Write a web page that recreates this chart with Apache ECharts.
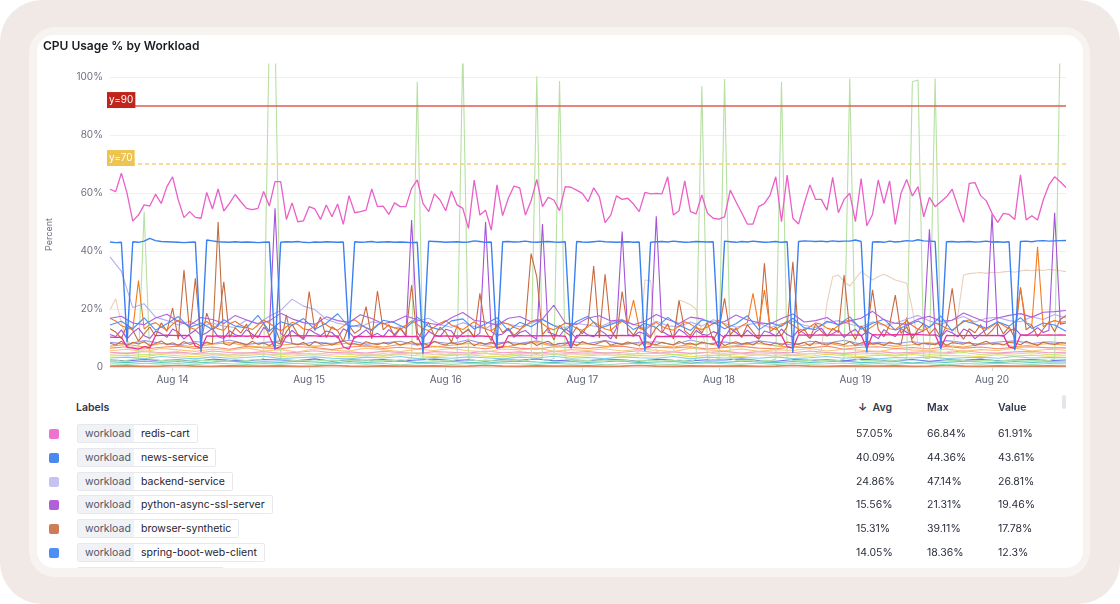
<!DOCTYPE html>
<html>
<head>
<meta charset="utf-8">
<script src="https://cdn.jsdelivr.net/npm/echarts@6/dist/echarts.min.js"></script>
<style>
html, body { margin: 0; padding: 0; width: 1120px; height: 604px; overflow: hidden; background: #fff; font-family: Inter, 'Noto Sans', sans-serif; }
#outer { position: absolute; left: 0; top: 0; width: 1120px; height: 604px; border-radius: 42px; background: #f1e9e5; }
#ring { position: absolute; left: 29px; top: 27px; width: 1061px; height: 550px; border-radius: 26px; background: #f7f3f1; }
#card { position: absolute; left: 37px; top: 35px; width: 1046px; height: 533px; border-radius: 17px; background: #fff; overflow: hidden; }
#chart { position: absolute; left: 0; top: 0; width: 1046px; height: 362px; }
.hdr { position: absolute; top: 366px; font-size: 10.5px; font-weight: 600; color: #30354a; line-height: 14px; white-space: nowrap; }
.row { position: absolute; left: 0; width: 1046px; height: 24px; }
.sw { position: absolute; left: 12px; top: 7px; width: 10px; height: 10px; border-radius: 2px; }
.chip { position: absolute; left: 40px; top: 2px; height: 19px; box-sizing: border-box; display: flex; border: 1px solid #e7e8ee; border-radius: 2px; font-size: 10.5px; line-height: 17px; white-space: nowrap; }
.chip .k { width: 56px; box-sizing: border-box; padding-left: 7px; background: #f1f2f6; color: #4f5566; }
.chip .v { background: #fff; color: #1f2330; padding: 0 7px; }
.num { position: absolute; top: 5px; font-size: 10.5px; color: #2a2e3c; line-height: 14px; }
#thumb { position: absolute; left: 1025px; top: 360px; width: 4px; height: 14px; border-radius: 2px; background: #e3e5eb; }
</style>
</head>
<body>
<div id="outer"></div>
<div id="ring"></div>
<div id="card">
  <div id="chart"></div>
  <div class="hdr" style="left:39px">Labels</div>
  <div class="hdr" style="left:821px">&#8595;&nbsp; Avg</div>
  <div class="hdr" style="left:890px">Max</div>
  <div class="hdr" style="left:961px">Value</div>
  <div id="thumb"></div>
  <div id="rows"></div>
</div>
<script>
// hourly samples start Aug 13 13:00 (UTC)
var START = Date.UTC(2024, 7, 13, 13, 0)
var HOUR = 3600 * 1000

var redisCart = [
  61.3, 60.5, 66.84, 59.9, 50.3, 52.4, 55.9, 55.5, 59.6, 56.4, 62.2, 65.6, 57.6, 51.5, 53.6, 51.6, 51.3, 60.2, 54.5, 61.4, 53.8, 56.4, 59.5, 57.0,
  54.7, 54.3, 54.7, 60.5, 55.5, 63.9, 63.9, 50.9, 56.6, 50.1, 50.4, 55.3, 54.5, 50.9, 55.9, 51.8, 56.2, 49.2, 59.1, 53.2, 53.6, 54.1, 61.4, 55.3,
  55.5, 52.6, 56.6, 55.3, 55.3, 61.6, 64.5, 56.4, 53.6, 59.7, 57.6, 53.9, 60.7, 55.9, 54.7, 47.8, 64.5, 52.4, 54.1, 47.2, 62.8, 52.2, 58.2, 62.4,
  61.8, 52.4, 57.3, 64.7, 55.3, 58.5, 57.6, 53.9, 62.2, 62.0, 61.0, 59.9, 57.0, 61.8, 58.7, 49.8, 52.4, 59.0, 57.8, 58.2, 56.2, 53.6, 60.2, 59.7,
  59.9, 59.7, 65.6, 52.4, 53.9, 64.2, 53.6, 52.8, 59.3, 53.0, 51.3, 51.0, 51.8, 61.0, 57.0, 53.2, 49.3, 49.3, 55.3, 56.4, 59.3, 65.6, 50.1, 66.2,
  51.3, 49.3, 56.4, 62.8, 57.8, 57.8, 54.1, 65.4, 53.2, 57.8, 59.9, 50.1, 65.0, 48.7, 52.6, 64.5, 56.4, 64.2, 49.2, 59.9, 64.7, 59.0, 62.2, 51.8,
  58.5, 55.3, 57.0, 58.7, 61.3, 55.3, 49.9, 63.3, 63.6, 59.1, 57.3, 53.0, 49.9, 53.0, 52.6, 50.9, 66.3, 50.7, 52.2, 50.7, 57.6, 62.8, 65.6, 63.9,
  61.91
]
var newsService = [
  43.1, 42.9, 43.0, 8.5, 43.2, 43.0, 43.4, 44.36, 43.6, 43.3, 43.2, 43.1, 43.0, 42.9, 43.0, 43.1, 5.2, 43.8, 43.5, 43.2, 43.1, 43.0, 43.2, 43.0,
  43.1, 43.0, 42.9, 43.0, 43.1, 6.0, 43.0, 43.2, 43.1, 43.3, 43.0, 42.9, 43.1, 43.0, 43.2, 43.1, 43.0, 43.1, 9.5, 43.2, 43.0, 43.1, 43.3, 43.0,
  43.1, 43.2, 43.0, 43.1, 43.0, 42.9, 43.0, 4.5, 43.4, 43.3, 43.2, 43.0, 43.1, 43.2, 43.0, 43.1, 43.5, 43.3, 43.0, 43.1, 6.5, 43.2, 43.3, 43.1,
  43.2, 43.4, 43.1, 43.0, 43.2, 43.3, 43.1, 43.0, 43.2, 7.0, 43.3, 43.1, 43.0, 43.2, 43.4, 43.2, 43.1, 43.0, 43.1, 43.2, 43.0, 43.1, 5.5, 43.0,
  43.2, 43.3, 43.1, 43.4, 43.2, 43.0, 43.1, 43.3, 43.2, 43.1, 43.2, 6.8, 43.4, 43.2, 43.0, 43.3, 43.1, 43.4, 43.2, 43.0, 43.1, 43.3, 43.0, 43.2,
  4.8, 43.3, 43.5, 43.4, 43.3, 43.4, 43.2, 43.5, 43.3, 43.4, 43.4, 43.8, 43.3, 5.0, 43.1, 43.2, 43.0, 43.4, 43.1, 43.3, 43.6, 43.4, 43.9, 43.5,
  43.4, 43.3, 6.2, 43.2, 43.3, 43.1, 43.2, 43.3, 43.1, 43.2, 43.4, 43.1, 43.2, 43.0, 43.2, 5.8, 43.3, 43.4, 43.2, 43.5, 43.6, 43.4, 43.5, 43.6,
  43.61
]
var checkoutStep = [
  10.3, 10.2, 10.3, 6.8, 6.5, 6.2, 7.0, 6.6, 10.8, 10.9, 11.0, 10.9, 10.8, 10.9, 10.8, 7.2, 6.4, 10.7, 10.6, 10.7, 10.6, 10.7, 10.6, 10.7,
  10.6, 10.7, 10.6, 10.5, 10.6, 6.3, 7.0, 10.8, 10.7, 10.8, 10.7, 10.8, 10.7, 10.6, 10.7, 10.6, 10.7, 6.9, 6.2, 10.5, 10.6, 10.5, 10.6, 10.5,
  10.6, 10.5, 10.6, 10.5, 10.6, 10.5, 10.6, 6.6, 7.1, 10.7, 10.6, 10.7, 10.6, 10.7, 10.6, 10.7, 10.6, 10.7, 10.6, 10.5, 6.4, 6.9, 10.8, 10.7,
  10.8, 10.7, 10.8, 10.7, 10.8, 10.7, 10.8, 10.7, 10.6, 6.5, 10.9, 10.8, 10.9, 10.8, 10.9, 10.8, 10.9, 10.8, 10.9, 10.8, 10.9, 10.8, 6.7, 7.2,
  10.6, 10.5, 10.6, 10.5, 10.6, 10.5, 10.6, 10.5, 10.6, 10.5, 10.4, 6.5, 10.9, 10.8, 10.9, 10.8, 10.9, 10.8, 10.9, 10.8, 10.9, 10.8, 10.9, 7.0,
  6.4, 11.1, 11.0, 11.1, 11.0, 11.1, 11.0, 11.1, 11.0, 11.1, 11.0, 11.1, 11.0, 6.3, 11.2, 11.1, 11.2, 11.1, 11.2, 11.1, 11.2, 11.3, 11.2, 11.1,
  11.0, 11.1, 6.6, 10.9, 10.8, 10.9, 10.8, 10.9, 10.8, 10.9, 10.8, 10.9, 10.8, 10.9, 6.9, 6.4, 11.0, 11.1, 11.0, 11.1, 11.0, 11.1, 11.0, 11.1,
  11.0
]
var loadgenSpikes = [
  2.1, 2.4, 2.0, 2.3, 2.6, 3.1, 53.6, 3.0, 2.5, 2.2, 2.4, 2.1, 2.3, 2.0, 2.2, 2.5, 2.3, 2.1, 2.4, 2.2, 2.0, 2.3, 2.6, 2.4,
  2.2, 2.5, 2.3, 3.0, 115, 115, 3.2, 2.5, 2.3, 2.1, 2.4, 2.2, 2.0, 2.3, 2.1, 2.4, 2.2, 2.5, 2.3, 2.1, 2.2, 2.4, 2.0, 2.3,
  2.1, 2.4, 2.2, 2.5, 2.3, 3.0, 98.4, 3.1, 2.4, 2.2, 2.0, 2.3, 2.1, 2.6, 110, 2.9, 2.3, 2.1, 2.4, 2.2, 2.0, 2.3, 2.5, 2.2,
  2.4, 2.1, 2.8, 100.3, 2.7, 2.3, 2.9, 98.6, 3.0, 2.2, 2.4, 2.1, 2.3, 2.0, 2.2, 2.5, 2.3, 2.1, 2.4, 2.2, 2.0, 2.3, 2.1, 2.4,
  2.2, 2.0, 2.3, 2.1, 2.4, 2.2, 2.0, 2.7, 96.9, 2.8, 2.4, 2.9, 99.3, 3.0, 2.3, 2.1, 2.4, 2.2, 2.0, 2.3, 2.1, 2.8, 98.4, 2.9,
  2.3, 2.1, 2.4, 2.2, 2.0, 2.3, 2.1, 2.4, 2.2, 2.7, 99.5, 2.8, 2.3, 2.1, 2.4, 2.2, 2.0, 2.3, 2.1, 2.4, 2.9, 98.4, 99.0, 3.1,
  2.9, 99.5, 3.0, 2.3, 2.1, 2.4, 2.2, 2.0, 2.3, 2.1, 2.4, 2.2, 2.0, 2.3, 2.1, 2.4, 2.2, 2.0, 2.3, 2.1, 2.4, 2.2, 2.8, 115,
  115
]
var tanWorker = [
  19.7, 23.5, 15.0, 9.2, 7.0, 6.1, 5.6, 5.2, 4.9, 4.6, 4.8, 4.5, 4.7, 4.4, 4.6, 4.3, 4.5, 4.7, 4.4, 4.6, 4.5, 4.3, 4.6, 4.4,
  4.5, 4.7, 4.4, 4.6, 4.3, 4.5, 4.8, 4.4, 4.6, 4.3, 4.5, 4.7, 4.4, 4.6, 4.5, 4.3, 4.6, 4.4, 4.7, 4.5, 4.3, 4.6, 4.4, 4.5,
  4.7, 4.4, 4.6, 4.3, 4.5, 4.8, 4.4, 4.6, 4.5, 4.3, 4.6, 4.4, 4.7, 4.5, 4.3, 4.6, 4.4, 4.5, 4.7, 4.4, 4.6, 4.3, 4.5, 4.8,
  4.4, 4.6, 4.5, 4.3, 4.6, 4.4, 4.7, 4.5, 4.3, 4.6, 4.4, 4.5, 4.7, 4.4, 4.6, 4.3, 4.5, 4.8, 4.4, 4.6, 4.5, 5.2, 30.0, 29.8,
  5.4, 4.8, 4.6, 5.0, 23.1, 22.4, 21.5, 19.9, 12.0, 5.3, 4.7, 4.5, 4.6, 4.4, 4.7, 4.5, 4.3, 4.6, 4.4, 4.5, 4.7, 4.4, 4.6, 4.5,
  4.3, 4.6, 4.4, 4.7, 4.5, 6.0, 22.0, 31.1, 31.7, 29.5, 27.9, 30.5, 32.9, 31.5, 30.0, 31.2, 32.0, 31.0, 30.0, 29.5, 28.9, 20.0, 8.0, 5.6,
  5.2, 4.9, 5.0, 5.2, 5.6, 18.0, 31.7, 32.2, 32.4, 32.6, 32.3, 32.7, 32.5, 32.8, 33.0, 32.7, 33.1, 33.4, 33.2, 33.5, 33.3, 33.6, 33.4, 33.2,
  32.9
]
var violetSpikes = [
  11.2, 10.5, 12.8, 9.7, 11.9, 13.4, 10.8, 9.9, 12.3, 11.6, 10.2, 13.1, 12.0, 9.6, 11.4, 12.7, 10.9, 11.8, 13.3, 10.4, 9.8, 12.5, 11.1, 10.6,
  12.9, 11.3, 10.1, 13.6, 12.2, 54.7, 11.5, 10.3, 12.6, 11.0, 9.5, 13.0, 11.7, 10.8, 12.4, 11.9, 10.0, 13.2, 12.1, 9.9, 11.3, 12.8, 10.7, 11.6,
  10.4, 12.9, 11.2, 13.5, 10.6, 50.7, 11.8, 9.7, 12.3, 11.1, 10.5, 13.0, 12.4, 9.8, 11.6, 12.9, 10.3, 11.7, 50.0, 12.2, 10.9, 11.4, 13.1, 10.2,
  11.9, 12.6, 10.8, 9.6, 49.3, 12.0, 11.3, 10.7, 13.2, 11.8, 9.9, 12.5, 11.0, 10.4, 12.8, 11.5, 9.7, 13.4, 46.7, 11.2, 10.6, 12.1, 11.4, 10.0,
  52.0, 12.3, 11.1, 10.5, 13.0, 11.7, 9.8, 12.6, 11.3, 10.9, 12.2, 11.5, 10.1, 13.3, 11.9, 10.4, 12.7, 11.0, 9.6, 12.4, 11.8, 10.7, 13.1, 11.2,
  10.3, 12.8, 11.6, 9.9, 12.1, 13.4, 10.8, 11.5, 12.7, 10.2, 11.9, 13.0, 10.6, 12.3, 11.1, 9.8, 12.9, 11.4, 10.5, 13.2, 12.0, 10.9, 11.7, 12.5,
  47.5, 11.3, 10.2, 12.6, 11.8, 10.4, 13.1, 12.2, 9.7, 11.5, 12.9, 52.8, 11.0, 10.6, 12.4, 13.3, 11.2, 10.8, 12.0, 13.6, 11.9, 12.7, 53.2, 14.8,
  15.2
]
var browserSynthetic = [
  13.2, 12.1, 9.8, 14.5, 12.7, 8.9, 11.4, 13.8, 10.6, 15.2, 12.3, 20.3, 9.5, 33.4, 11.8, 30.6, 8.7, 18.6, 12.9, 14.1, 29.4, 10.2, 13.5, 11.7,
  14.8, 9.6, 12.4, 15.1, 10.8, 13.6, 8.4, 12.2, 14.7, 11.3, 9.9, 26.0, 12.6, 17.3, 10.1, 13.9, 12.5, 8.8, 14.3, 11.6, 13.0, 20.8, 9.7, 26.2,
  12.8, 14.6, 10.5, 13.3, 11.1, 28.3, 9.3, 12.9, 15.4, 10.7, 13.7, 12.0, 8.6, 14.2, 11.5, 13.1, 10.3, 25.4, 12.4, 9.1, 14.9, 11.9, 13.4, 10.9,
  12.6, 15.0, 39.11, 31.1, 11.2, 13.5, 9.4, 14.4, 12.1, 10.6, 13.8, 11.4, 14.7, 34.8, 10.0, 32.0, 12.7, 9.8, 26.0, 13.2, 11.0, 14.1, 12.3, 10.4,
  13.6, 11.8, 14.9, 9.6, 22.9, 12.5, 10.9, 13.9, 11.7, 15.3, 9.2, 12.8, 23.7, 11.1, 13.4, 10.2, 14.6, 12.0, 9.7, 35.8, 12.2, 13.7, 10.8, 14.0,
  36.3, 11.5, 13.1, 9.9, 14.8, 12.4, 10.6, 13.3, 11.9, 31.7, 12.7, 9.5, 14.2, 11.2, 26.6, 13.0, 10.4, 14.5, 24.8, 11.6, 13.8, 9.8, 12.9, 15.1,
  11.3, 13.5, 10.1, 14.3, 27.1, 12.1, 9.6, 13.2, 11.8, 14.6, 10.7, 12.6, 15.0, 11.4, 13.9, 9.9, 27.5, 12.8, 14.4, 10.5, 13.1, 15.6, 12.2, 16.4,
  17.78
]
var brownBatch = [
  8.2, 7.6, 8.9, 7.3, 8.5, 7.9, 8.7, 7.4, 8.1, 9.0, 7.7, 8.4, 7.5, 8.8, 7.8, 8.3, 7.2, 8.6, 7.9, 50.0, 8.0, 7.5, 8.7, 8.2,
  7.6, 8.9, 7.8, 8.3, 7.4, 8.6, 7.9, 18.0, 8.1, 7.7, 8.5, 7.3, 8.8, 7.9, 8.2, 7.6, 8.4, 9.1, 7.8, 8.0, 7.5, 8.7, 8.1, 7.7,
  8.4, 7.9, 8.6, 7.5, 8.2, 8.8, 7.7, 8.3, 7.4, 8.9, 8.0, 7.6, 8.5, 7.8, 8.1, 9.0, 7.3, 8.4, 7.9, 8.6, 7.7, 8.2, 8.8, 7.5,
  8.1, 7.8, 8.7, 7.4, 8.3, 8.9, 7.6, 8.2, 7.9, 8.5, 7.3, 8.8, 8.0, 7.7, 8.4, 9.1, 7.5, 8.2, 7.8, 8.6, 8.0, 7.4, 8.9, 8.1,
  7.7, 8.5, 8.0, 7.6, 8.8, 7.9, 8.3, 7.5, 8.6, 8.1, 7.8, 9.0, 7.4, 8.2, 8.7, 7.9, 8.4, 7.6, 8.9, 8.0, 7.7, 8.3, 7.5, 8.6,
  8.2, 7.8, 8.5, 7.3, 8.9, 8.0, 7.6, 8.4, 8.1, 7.7, 8.8, 7.5, 8.3, 9.0, 7.9, 8.2, 7.4, 8.6, 8.0, 7.8, 17.0, 8.5, 7.6, 8.3,
  8.0, 7.7, 8.8, 7.5, 8.4, 8.1, 7.9, 8.6, 7.3, 8.2, 8.9, 7.8, 8.0, 7.6, 8.5, 8.3, 7.7, 8.9, 8.1, 7.4, 8.6, 8.0, 7.8, 8.4,
  8.2
]
var orangeApi = [
  16.8, 15.9, 14.2, 13.5, 12.8, 29.8, 13.1, 14.6, 15.3, 13.9, 12.7, 14.8, 16.1, 15.2, 13.6, 12.9, 14.3, 15.7, 14.1, 13.2, 12.6, 14.9, 15.8, 14.4,
  13.7, 12.9, 14.5, 16.2, 15.1, 13.8, 12.4, 13.9, 15.4, 14.7, 13.1, 12.8, 14.2, 15.9, 14.6, 13.3, 12.7, 14.1, 15.5, 16.3, 14.8, 13.4, 12.9, 14.6,
  15.2, 14.1, 13.5, 12.8, 14.4, 15.9, 14.7, 13.2, 12.6, 13.8, 15.1, 16.0, 14.5, 13.6, 12.9, 14.3, 15.6, 14.2, 13.1, 12.5, 13.9, 15.3, 14.8, 13.7,
  12.9, 14.2, 15.7, 16.4, 14.9, 13.5, 12.8, 14.0, 15.2, 14.6, 13.3, 12.7, 13.9, 15.5, 14.3, 13.1, 12.6, 14.4, 15.8, 14.7, 23.1, 13.4, 12.8, 14.2,
  15.4, 14.0, 13.2, 12.7, 14.1, 15.6, 14.8, 13.5, 12.9, 13.8, 15.0, 16.1, 14.6, 13.3, 12.8, 14.2, 15.3, 25.4, 14.1, 26.5, 13.6, 12.9, 14.5, 15.8,
  14.4, 13.1, 12.6, 13.9, 15.2, 14.7, 13.4, 12.8, 14.3, 15.7, 16.2, 14.9, 13.5, 12.7, 14.0, 15.4, 14.6, 13.2, 12.9, 14.4, 15.9, 14.3, 13.0, 12.6,
  13.8, 15.1, 14.5, 13.3, 12.8, 14.2, 15.6, 16.3, 14.8, 13.6, 12.9, 14.1, 15.5, 14.4, 13.1, 12.7, 27.0, 15.2, 14.6, 41.5, 13.9, 15.3, 16.0, 15.4,
  15.7
]

// two-hourly samples
var springBoot = [
  14.5, 15.8, 13.2, 16.9, 12.7, 14.9, 17.4, 13.6, 15.2, 12.9,
  16.3, 14.1, 13.5, 17.8, 12.4, 15.6, 14.3, 16.7, 13.0, 15.1,
  18.36, 13.8, 14.6, 12.6, 16.1, 15.3, 13.4, 17.2, 14.0, 12.8,
  15.9, 16.6, 13.1, 14.8, 17.0, 12.5, 15.4, 13.9, 16.4, 14.2,
  12.7, 15.7, 17.5, 13.3, 14.7, 16.0, 12.9, 15.0, 13.6, 17.1,
  14.4, 12.6, 16.2, 15.5, 13.2, 14.9, 17.7, 12.8, 15.3, 14.0,
  16.8, 13.5, 12.9, 15.8, 14.6, 17.3, 13.0, 15.1, 16.5, 12.7,
  14.3, 15.9, 13.7, 17.6, 12.4, 16.0, 14.8, 13.4, 15.6, 14.1,
  17.0, 13.3, 15.2, 14.5, 12.3
]
var pythonAsync = [
  16.8, 17.5, 15.2, 14.6, 16.9, 18.2, 15.7, 14.3, 17.1, 16.4,
  15.0, 17.8, 16.2, 14.8, 15.9, 18.5, 16.6, 15.3, 14.7, 17.3,
  16.0, 15.4, 18.0, 16.7, 14.9, 15.8, 17.6, 16.3, 15.1, 14.5,
  17.0, 18.8, 16.1, 15.5, 14.4, 16.8, 17.4, 15.6, 16.5, 21.31,
  15.2, 14.7, 16.9, 17.7, 15.9, 16.3, 14.6, 15.8, 18.1, 16.4,
  15.0, 17.2, 16.6, 14.9, 15.7, 17.9, 16.2, 15.3, 14.8, 16.7,
  18.3, 15.5, 16.0, 17.1, 14.5, 15.9, 16.8, 19.2, 16.3, 15.1,
  14.7, 16.5, 17.5, 15.8, 16.1, 18.6, 17.0, 15.4, 16.9, 17.8,
  18.4, 17.2, 18.9, 19.1, 19.46
]
var backendService = [
  38.0, 33.0, 20.5, 21.8, 17.2, 16.0, 14.5, 15.8, 13.9, 15.2,
  14.1, 13.6, 16.2, 15.0, 17.5, 19.5, 23.4, 21.0, 19.8, 16.5,
  15.1, 14.4, 13.8, 15.6, 14.9, 13.5, 14.2, 15.9, 16.8, 14.6,
  13.7, 15.3, 14.0, 13.2, 15.7, 14.8, 13.9, 15.1, 16.4, 14.3,
  13.6, 15.0, 14.5, 13.8, 15.4, 16.1, 14.7, 13.4, 15.8, 14.2,
  13.9, 15.5, 14.1, 16.3, 15.0, 13.7, 14.6, 15.2, 13.5, 14.9,
  15.8, 14.4, 13.6, 15.3, 16.0, 14.8, 13.8, 15.6, 14.3, 15.1,
  16.5, 17.8, 15.9, 14.7, 16.2, 17.4, 15.5, 16.8, 17.1, 16.0,
  15.6, 17.3, 16.4, 18.1, 16.9
]

// three-hourly samples, low-usage workloads
var lowAmber = [
  7.2, 7.8, 6.9, 8.1, 7.5, 7.0, 7.9, 8.4, 7.3, 6.8, 7.6, 8.0, 7.1, 7.7, 8.3, 7.4, 6.9, 7.8, 8.2, 7.0,
  7.5, 8.1, 7.3, 6.7, 7.9, 8.4, 7.2, 7.6, 8.0, 7.1, 7.7, 8.5, 7.4, 6.9, 7.8, 8.2, 7.0, 7.6, 8.1, 7.3,
  6.8, 7.9, 8.3, 7.2, 7.5, 8.0, 7.1, 7.7, 8.4, 7.4, 6.9, 7.8, 8.2, 7.0, 7.6, 8.1, 7.5
]
var lowPeach = [
  5.6, 6.1, 5.3, 6.4, 5.9, 5.4, 6.2, 5.7, 6.6, 5.5, 6.0, 5.2, 6.3, 5.8, 5.5, 6.5, 5.9, 5.3, 6.1, 5.7,
  6.4, 5.6, 5.2, 6.2, 5.9, 6.6, 5.4, 6.0, 5.7, 6.3, 5.5, 6.1, 5.8, 5.3, 6.5, 5.9, 5.6, 6.2, 5.4, 6.0,
  5.7, 6.4, 5.5, 6.1, 5.8, 5.3, 6.3, 5.9, 5.6, 6.2, 5.4, 6.0, 5.7, 6.5, 5.5, 6.1, 5.8
]
var lowSky = [
  3.1, 3.4, 2.9, 3.6, 3.2, 2.8, 3.5, 3.0, 3.3, 3.7, 2.9, 3.2, 3.5, 3.0, 2.8, 3.4, 3.1, 3.6, 2.9, 3.3,
  3.0, 3.5, 3.2, 2.8, 3.4, 3.1, 3.7, 3.0, 3.3, 2.9, 3.5, 3.2, 3.0, 3.6, 2.8, 3.4, 3.1, 3.3, 3.0, 3.5,
  2.9, 3.2, 3.6, 3.0, 3.4, 2.8, 3.3, 3.1, 3.5, 2.9, 3.2, 3.4, 3.0, 3.6, 3.1, 3.3, 3.2
]
var lowIndigo = [
  2.4, 2.1, 2.6, 2.2, 2.5, 2.0, 2.7, 2.3, 2.1, 2.6, 2.4, 2.2, 2.8, 2.0, 2.5, 2.3, 2.6, 2.1, 2.4, 2.7,
  2.2, 2.5, 2.0, 2.6, 2.3, 2.8, 2.1, 2.4, 2.2, 2.6, 2.5, 2.0, 2.7, 2.3, 2.1, 2.5, 2.4, 2.8, 2.2, 2.0,
  2.6, 2.3, 2.5, 2.1, 2.7, 2.4, 2.2, 2.6, 2.0, 2.5, 2.3, 2.7, 2.1, 2.4, 2.6, 2.2, 2.4
]
var lowLime = [
  4.4, 4.8, 4.2, 4.6, 5.0, 4.3, 4.7, 4.1, 4.9, 4.5, 4.2, 4.8, 4.4, 5.1, 4.3, 4.6, 4.0, 4.7, 4.9, 4.4,
  4.2, 4.5, 4.8, 4.1, 4.6, 5.0, 4.3, 4.7, 4.4, 4.9, 4.2, 4.6, 4.8, 4.3, 4.5, 5.1, 4.1, 4.7, 4.4, 4.8,
  4.2, 4.6, 4.9, 4.3, 4.5, 4.7, 4.0, 4.8, 4.4, 4.6, 5.0, 4.3, 4.7, 4.5, 4.9, 4.2, 4.6
]
var lowRose = [
  5.1, 4.7, 5.4, 4.9, 5.2, 4.6, 5.5, 5.0, 4.8, 5.3, 4.7, 5.1, 5.6, 4.9, 5.2, 4.8, 5.4, 5.0, 4.6, 5.3,
  5.1, 4.8, 5.5, 4.9, 5.2, 4.7, 5.4, 5.0, 5.3, 4.8, 5.1, 5.6, 4.9, 5.2, 4.7, 5.0, 5.4, 4.8, 5.3, 5.1,
  4.9, 5.5, 5.0, 4.7, 5.2, 5.4, 4.8, 5.1, 5.3, 4.9, 5.6, 5.0, 4.8, 5.2, 5.4, 4.9, 5.1
]
var lowTeal = [
  1.8, 1.5, 2.0, 1.6, 1.9, 1.4, 1.7, 2.1, 1.5, 1.8, 1.6, 2.0, 1.7, 1.4, 1.9, 1.6, 1.8, 2.1, 1.5, 1.7,
  1.9, 1.6, 1.4, 1.8, 2.0, 1.7, 1.5, 1.9, 1.6, 1.8, 2.1, 1.5, 1.7, 1.9, 1.4, 1.8, 1.6, 2.0, 1.7, 1.5,
  1.9, 1.6, 1.8, 2.1, 1.5, 1.7, 1.9, 1.4, 1.8, 1.6, 2.0, 1.7, 1.5, 1.9, 1.6, 1.8, 1.7
]
var lowYellow = [
  3.8, 4.1, 3.6, 4.3, 3.9, 3.5, 4.2, 3.7, 4.0, 4.4, 3.6, 3.9, 4.2, 3.8, 3.5, 4.1, 3.7, 4.3, 3.9, 3.6,
  4.0, 4.2, 3.7, 3.5, 4.1, 3.8, 4.4, 3.6, 3.9, 4.2, 3.7, 4.0, 3.8, 4.3, 3.5, 4.1, 3.9, 3.6, 4.2, 3.8,
  4.0, 3.7, 4.4, 3.9, 3.6, 4.1, 3.8, 4.3, 3.7, 4.0, 3.9, 3.6, 4.2, 3.8, 4.1, 3.7, 3.9
]
var lowPeriwinkle = [
  8.5, 7.9, 9.1, 8.2, 7.6, 8.8, 8.0, 9.3, 7.8, 8.4, 9.0, 7.7, 8.6, 8.1, 9.2, 7.9, 8.3, 8.9, 7.5, 8.7,
  8.0, 9.4, 7.8, 8.5, 8.2, 9.0, 7.6, 8.8, 8.1, 9.1, 7.9, 8.4, 8.7, 7.7, 9.3, 8.0, 8.6, 7.8, 9.0, 8.3,
  7.6, 8.9, 8.2, 9.2, 7.9, 8.5, 8.0, 8.8, 7.7, 9.1, 8.4, 7.8, 8.6, 9.0, 8.1, 8.7, 8.3
]
var lowSalmon = [
  0.3, 0.4, 0.2, 0.3, 0.5, 0.3, 0.2, 0.4, 0.3, 0.3, 0.4, 0.2, 0.3, 0.5, 0.3, 0.2, 0.4, 0.3, 0.3, 0.4,
  0.2, 0.3, 0.5, 0.3, 0.2, 0.4, 0.3, 0.3, 0.4, 0.2, 0.3, 0.5, 0.3, 0.2, 0.4, 0.3, 0.3, 0.4, 0.2, 0.3,
  0.5, 0.3, 0.2, 0.4, 0.3, 0.3, 0.4, 0.2, 0.3, 0.5, 0.3, 0.2, 0.4, 0.3, 0.3, 0.4, 0.3
]
var lowCoral = [
  6.5, 7.0, 6.2, 6.8, 7.2, 6.4, 6.9, 6.1, 7.1, 6.6, 6.3, 7.0, 6.7, 6.0, 6.9, 7.3, 6.4, 6.8, 6.2, 7.1,
  6.6, 6.9, 6.3, 7.2, 6.5, 6.1, 7.0, 6.7, 6.4, 6.9, 7.2, 6.3, 6.8, 6.6, 7.0, 6.2, 6.7, 7.1, 6.5, 6.3,
  6.9, 6.6, 7.2, 6.1, 6.8, 7.0, 6.4, 6.7, 6.2, 7.1, 6.5, 6.9, 6.3, 6.8, 7.0, 6.6, 6.6
]
var lowMint = [
  1.1, 0.9, 1.3, 1.0, 1.2, 0.8, 1.4, 1.1, 0.9, 1.2, 1.0, 1.3, 0.9, 1.1, 1.4, 1.0, 1.2, 0.8, 1.1, 1.3,
  0.9, 1.2, 1.0, 1.4, 1.1, 0.9, 1.3, 1.0, 1.2, 0.8, 1.1, 1.3, 1.0, 0.9, 1.2, 1.4, 1.1, 1.0, 1.3, 0.9,
  1.2, 1.0, 1.1, 1.4, 0.9, 1.2, 1.0, 1.3, 1.1, 0.8, 1.2, 1.0, 1.3, 1.1, 0.9, 1.2, 1.1
]

// legend table
var legendNames = ['redis-cart', 'news-service', 'backend-service', 'python-async-ssl-server', 'browser-synthetic', 'spring-boot-web-client', 'frontend-proxy']
var legendColors = ['#ee72cf', '#4a88f0', '#c6c3f2', '#b061d8', '#cf7b58', '#4f8ef5', '#f5a64a']
var legendAvg = ['57.05%', '40.09%', '24.86%', '15.56%', '15.31%', '14.05%', '12.9%']
var legendMax = ['66.84%', '44.36%', '47.14%', '21.31%', '39.11%', '18.36%', '17.2%']
var legendValue = ['61.91%', '43.61%', '26.81%', '19.46%', '17.78%', '12.3%', '13.1%']

function pts(values, step) {
  return values.map(function (v, i) { return [START + i * step * HOUR, v] })
}
function line(name, values, step, color, width) {
  return {
    name: name,
    type: 'line',
    data: pts(values, step),
    symbol: 'none',
    showSymbol: false,
    silent: true,
    lineStyle: { color: color, width: width || 1.1 },
    itemStyle: { color: color },
    emphasis: { disabled: true }
  }
}

var series = [
  line('low-salmon', lowSalmon, 3, '#d98662', 1.6),
  line('low-mint', lowMint, 3, '#9ddcae'),
  line('low-teal', lowTeal, 3, '#56c8bd'),
  line('low-indigo', lowIndigo, 3, '#6c73e6'),
  line('low-sky', lowSky, 3, '#7fcdee'),
  line('low-yellow', lowYellow, 3, '#efd94f'),
  line('low-lime', lowLime, 3, '#c5e66b'),
  line('low-rose', lowRose, 3, '#f29acb'),
  line('low-peach', lowPeach, 3, '#f9c77a'),
  line('low-coral', lowCoral, 3, '#f48c6e'),
  line('low-amber', lowAmber, 3, '#f6a94a'),
  line('low-periwinkle', lowPeriwinkle, 3, '#9b96ee'),
  line('loadgen', loadgenSpikes, 1, '#b7e0a2'),
  line('tan-worker', tanWorker, 1, '#ead0bc'),
  line('brown-batch', brownBatch, 1, '#c2703f'),
  line('backend-service', backendService, 2, '#b3aff0'),
  line('violet', violetSpikes, 1, '#a452da'),
  line('browser-synthetic', browserSynthetic, 1, '#c8693f'),
  line('orange-api', orangeApi, 1, '#f47a1f'),
  line('python-async-ssl-server', pythonAsync, 2, '#b062dc'),
  line('spring-boot-web-client', springBoot, 2, '#4f8ef5'),
  line('checkout-step', checkoutStep, 1, '#ea2f98', 1.3),
  line('news-service', newsService, 1, '#3b80f0', 1.4),
  line('redis-cart', redisCart, 1, '#ea5fc8', 1.3)
]

series[series.length - 1].markLine = {
  silent: true,
  symbol: 'none',
  animation: false,
  data: [
    {
      yAxis: 90,
      lineStyle: { color: '#dc5e52', width: 1.5, type: 'solid' },
      label: { formatter: 'y=90', position: 'insideStartTop', distance: [-3, -2], color: '#fff', backgroundColor: '#c1241b', padding: [3, 2, 3, 2], fontSize: 10, fontFamily: 'Inter' }
    },
    {
      yAxis: 70,
      lineStyle: { color: '#f3d176', width: 1.5, type: [4, 3] },
      label: { formatter: 'y=70', position: 'insideStartTop', distance: [-3, -2], color: '#fff', backgroundColor: '#edc44f', padding: [3, 2, 3, 2], fontSize: 10, fontFamily: 'Inter' }
    }
  ]
}

var chart = echarts.init(document.getElementById('chart'))
chart.setOption({
  animation: false,
  useUTC: true,
  title: {
    text: 'CPU Usage % by Workload',
    left: 1,
    top: 0,
    textStyle: { fontFamily: 'Inter', fontSize: 12, fontWeight: 600, color: '#1b1d24' }
  },
  grid: { left: 70, right: 17, top: 29, bottom: 30 },
  xAxis: {
    type: 'time',
    min: START,
    max: START + 168 * HOUR,
    minInterval: 24 * HOUR,
    maxInterval: 24 * HOUR,
    axisLine: { show: true, lineStyle: { color: '#e3e4ea' } },
    axisTick: { show: true, length: 4, lineStyle: { color: '#d8dae2' } },
    splitLine: { show: false },
    axisLabel: {
      formatter: '{MMM} {d}',
      color: '#5f6372',
      fontSize: 10,
      fontFamily: 'Inter',
      margin: 8,
      showMinLabel: false,
      showMaxLabel: false
    }
  },
  yAxis: {
    type: 'value',
    min: 0,
    max: 104.5,
    interval: 20,
    name: 'Percent',
    nameLocation: 'middle',
    nameGap: 56,
    nameTextStyle: { color: '#6b6f7c', fontSize: 9, fontFamily: 'Inter', padding: [0, 38, 0, 0] },
    axisLine: { show: false },
    axisTick: { show: false },
    splitLine: { show: true, showMaxLine: false, lineStyle: { color: '#eeeff3' } },
    axisLabel: {
      showMaxLabel: false,
      color: '#6e7180',
      fontSize: 10,
      fontFamily: 'Inter',
      margin: 7,
      formatter: function (v) { return v === 0 ? '0' : v + '%' }
    }
  },
  series: series
})

// legend rows under the chart
var rowsEl = document.getElementById('rows')
legendNames.forEach(function (name, i) {
  var top = 387 + i * 23.8
  var row = document.createElement('div')
  row.className = 'row'
  row.style.top = top + 'px'
  row.innerHTML =
    '<div class="sw" style="background:' + legendColors[i] + '"></div>' +
    '<div class="chip"><span class="k">workload</span><span class="v">' + name + '</span></div>' +
    '<div class="num" style="left:819px">' + legendAvg[i] + '</div>' +
    '<div class="num" style="left:890px">' + legendMax[i] + '</div>' +
    '<div class="num" style="left:961px">' + legendValue[i] + '</div>'
  rowsEl.appendChild(row)
})
</script>
</body>
</html>
